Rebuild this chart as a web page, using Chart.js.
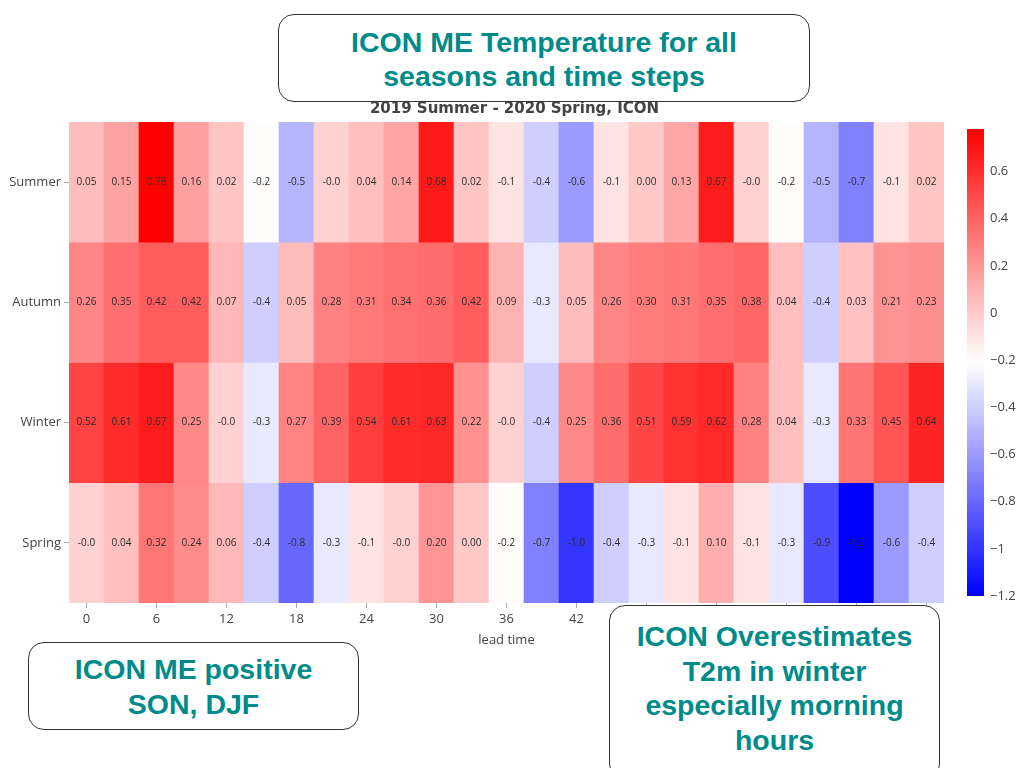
<!DOCTYPE html>
<html>
<head>
<meta charset="utf-8">
<script src="https://cdn.jsdelivr.net/npm/chart.js@4/dist/chart.umd.min.js"></script>
<style>
  html, body { margin: 0; padding: 0; background: #fff; }
  #page { position: relative; width: 1024px; height: 768px; overflow: hidden; }
  #heatWrap { position: absolute; left: 0; top: 0; width: 950px; height: 768px; }
  #barWrap { position: absolute; left: 950px; top: 0; width: 74px; height: 768px; }
  .note {
    position: absolute; box-sizing: border-box; background: #fff;
    border: 1.3px solid #333; border-radius: 16px;
    font-family: "Liberation Sans", Arial, sans-serif; font-weight: bold;
    color: #008b8b; text-align: center; font-size: 28.5px;
  }
</style>
</head>
<body>
<div id="page">
  <div id="heatWrap"><canvas id="heatChart"></canvas></div>
  <div id="barWrap"><canvas id="barChart"></canvas></div>
  <div class="note" style="left:278px; top:14px; width:532px; height:88px; line-height:34px; padding-top:10px;">ICON ME Temperature for all<br>seasons and time steps</div>
  <div class="note" style="left:28px; top:642px; width:331px; height:88px; line-height:35px; padding-top:9px;">ICON ME positive<br>SON, DJF</div>
  <div class="note" style="left:609px; top:605px; width:331px; height:175px; line-height:34.5px; padding-top:13px;">ICON Overestimates<br>T2m in winter<br>especially morning<br>hours</div>
</div>
<script>
const chartTitle = '2019 Summer - 2020 Spring, ICON';
const seasons = ['Summer', 'Autumn', 'Winter', 'Spring'];
const leadTimes = ['0', '3', '6', '9', '12', '15', '18', '21', '24', '27', '30', '33', '36',
  '39', '42', '45', '48', '51', '54', '57', '60', '63', '66', '69', '72'];

const summer = [0.05, 0.15, 0.78, 0.16, 0.02, -0.2, -0.5, -0.03, 0.04, 0.14, 0.68, 0.02, -0.1,
  -0.4, -0.6, -0.1, 0.00, 0.13, 0.67, -0.03, -0.2, -0.5, -0.7, -0.1, 0.02];
const autumn = [0.26, 0.35, 0.42, 0.42, 0.07, -0.4, 0.05, 0.28, 0.31, 0.34, 0.36, 0.42, 0.09,
  -0.3, 0.05, 0.26, 0.30, 0.31, 0.35, 0.38, 0.04, -0.4, 0.03, 0.21, 0.23];
const winter = [0.52, 0.61, 0.67, 0.25, -0.03, -0.3, 0.27, 0.39, 0.54, 0.61, 0.63, 0.22, -0.03,
  -0.4, 0.25, 0.36, 0.51, 0.59, 0.62, 0.28, 0.04, -0.3, 0.33, 0.45, 0.64];
const spring = [-0.03, 0.04, 0.32, 0.24, 0.06, -0.4, -0.8, -0.3, -0.1, -0.03, 0.20, 0.00, -0.2,
  -0.7, -1.0, -0.4, -0.3, -0.1, 0.10, -0.1, -0.3, -0.9, -1.2, -0.6, -0.4];
const rows = [summer, autumn, winter, spring];

const colorMin = -1.2;
const colorMax = 0.78;
const colorbarTicks = [0.6, 0.4, 0.2, 0, -0.2, -0.4, -0.6, -0.8, -1, -1.2];

const FONT = '"Open Sans", "DejaVu Sans", sans-serif';
const TEXT = '#444';

// blue - white - red, linear over [colorMin, colorMax]
function bwr(v) {
  let t = (v - colorMin) / (colorMax - colorMin);
  t = Math.max(0, Math.min(1, t));
  if (t < 0.5) {
    const c = Math.round(255 * t / 0.5);
    return `rgb(${c},${c},255)`;
  }
  const c = Math.round(255 * (1 - (t - 0.5) / 0.5));
  return `rgb(255,${c},${c})`;
}

function cellLabel(v) {
  return v < 0 ? v.toFixed(1) : v.toFixed(2);
}

const cellText = {
  id: 'cellText',
  afterDatasetsDraw(chart) {
    const ctx = chart.ctx;
    ctx.save();
    ctx.font = `10px ${FONT}`;
    ctx.fillStyle = '#2b2b2b';
    ctx.textAlign = 'center';
    ctx.textBaseline = 'middle';
    chart.data.datasets.forEach((ds, r) => {
      chart.getDatasetMeta(r).data.forEach((el, i) => {
        const p = el.getCenterPoint();
        ctx.fillText(cellLabel(rows[r][i]), p.x, p.y);
      });
    });
    ctx.restore();
  }
};

const plotTitle = {
  id: 'plotTitle',
  afterDraw(chart) {
    const { ctx, chartArea } = chart;
    ctx.save();
    ctx.font = 'bold 15px "DejaVu Sans", Verdana, sans-serif';
    ctx.fillStyle = TEXT;
    ctx.textAlign = 'center';
    ctx.textBaseline = 'middle';
    ctx.fillText(chartTitle, (chartArea.left + chartArea.right) / 2 + 8, chartArea.top - 13);
    ctx.restore();
  }
};

new Chart(document.getElementById('heatChart'), {
  type: 'bar',
  data: {
    labels: leadTimes,
    datasets: rows.map((vals, r) => ({
      label: seasons[r],
      data: vals.map(() => [r - 0.5, r + 0.5]),
      backgroundColor: vals.map(bwr),
      borderWidth: 0,
      barPercentage: 1,
      categoryPercentage: 1
    }))
  },
  options: {
    responsive: true,
    maintainAspectRatio: false,
    animation: false,
    layout: { padding: { top: 122, bottom: 120, left: 0, right: 6 } },
    plugins: { legend: { display: false }, tooltip: { enabled: false } },
    scales: {
      x: {
        stacked: true,
        offset: true,
        afterFit: s => { s.height = 45; },
        grid: {
          offset: false, drawOnChartArea: false, tickLength: 5,
          tickColor: c => (c.index % 2 ? 'rgba(0,0,0,0)' : '#aaa')
        },
        border: { display: false },
        ticks: {
          autoSkip: false, maxRotation: 0, padding: 3,
          color: TEXT, font: { family: FONT, size: 13 },
          callback: (v, i) => (i % 2 ? '' : leadTimes[i])
        },
        title: { display: true, text: 'lead time', color: TEXT, font: { family: FONT, size: 13 }, padding: { top: 0, bottom: 0 } }
      },
      y: {
        reverse: true,
        min: -0.5,
        max: 3.5,
        afterFit: s => { s.width = 69; },
        afterBuildTicks: s => { s.ticks = seasons.map((_, i) => ({ value: i })); },
        grid: { drawOnChartArea: false, tickLength: 5, tickColor: '#aaa' },
        border: { display: false },
        ticks: { color: TEXT, font: { family: FONT, size: 13 }, padding: 3, callback: v => seasons[v] }
      }
    }
  },
  plugins: [cellText, plotTitle]
});

new Chart(document.getElementById('barChart'), {
  type: 'bar',
  data: {
    labels: [''],
    datasets: [{
      data: [[colorMin, colorMax]],
      backgroundColor: c => {
        const area = c.chart.chartArea;
        if (!area) return 'rgba(0,0,0,0)';
        const g = c.chart.ctx.createLinearGradient(0, area.bottom, 0, area.top);
        g.addColorStop(0, 'rgb(0,0,255)');
        g.addColorStop(0.5, 'rgb(255,255,255)');
        g.addColorStop(1, 'rgb(255,0,0)');
        return g;
      },
      borderWidth: 0,
      barPercentage: 1,
      categoryPercentage: 1
    }]
  },
  options: {
    responsive: true,
    maintainAspectRatio: false,
    animation: false,
    layout: { padding: { top: 129, bottom: 172, left: 17, right: 0 } },
    plugins: { legend: { display: false }, tooltip: { enabled: false } },
    scales: {
      x: { display: false },
      y: {
        position: 'right',
        min: colorMin,
        max: colorMax,
        afterFit: s => { s.width = 40; },
        afterBuildTicks: s => { s.ticks = colorbarTicks.map(v => ({ value: v })); },
        grid: { display: false },
        border: { display: false },
        ticks: {
          color: TEXT, font: { family: FONT, size: 13 }, padding: -2,
          callback: v => (v < 0 ? '\u2212' + Math.abs(v) : String(v))
        }
      }
    }
  }
});
</script>
</body>
</html>
